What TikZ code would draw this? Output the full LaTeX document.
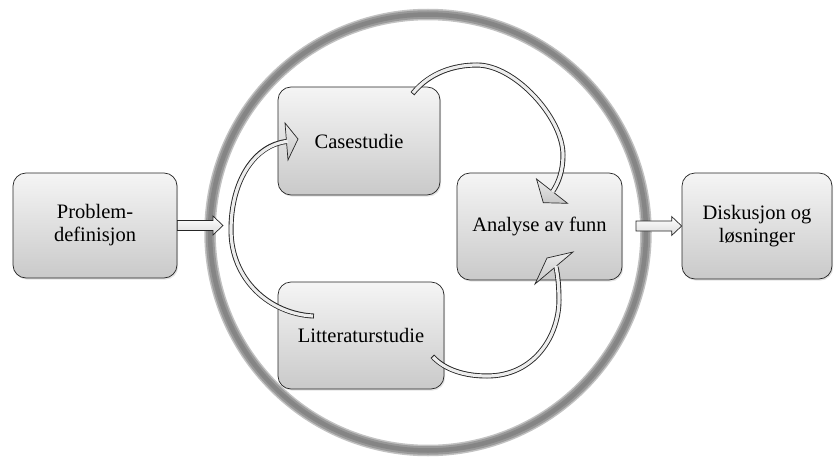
\documentclass[tikz,border=0pt]{standalone}
\usepackage{fontspec}
\IfFontExistsTF{LiberationSerif-Regular.ttf}
  {\newfontfamily\stagefont{LiberationSerif}[Extension=.ttf, UprightFont=*-Regular]}
  {\newfontfamily\stagefont{Liberation Serif}}
\usetikzlibrary{shadows,calc}

% hollow block arrow between two points (same height as the first point)
\newcommand\blockarrow[2]{%
  \path[blockar] let \p1=(#1), \p2=(#2) in
    (\x1,\y1+5pt) -- (\x2-10pt,\y1+5pt) -- (\x2-10pt,\y1+9.5pt) --
    (\x2,\y1) -- (\x2-10pt,\y1-9.5pt) -- (\x2-10pt,\y1-5pt) --
    (\x1,\y1-5pt) -- cycle;}

% curved band arrow: #1 = path, #2 = head polygon
\newcommand\bandarrow[2]{%
  \draw[bandout, shorten <=-0.9pt] #1;
  \draw[bandhead] #2;
  \draw[bandin, shorten >=-1.2pt] #1;}

\begin{document}
\begin{tikzpicture}[x=1pt,y=-1pt,
  stage/.style={draw=black!85, line width=0.7pt, rounded corners=13pt,
    top color=black!4, bottom color=black!21, align=center, inner sep=0pt,
    font=\stagefont\fontsize{20.5}{23}\selectfont,
    drop shadow={shadow xshift=1.2pt, shadow yshift=-1.6pt, opacity=0.22}},
  blockar/.style={draw=black!85, line width=0.7pt, top color=white, bottom color=black!14},
  bandout/.style={draw=black!85, line width=5pt},
  bandin/.style={draw=black!7, line width=3.2pt},
  bandhead/.style={draw=black!85, line width=0.7pt, top color=black!8, bottom color=black!22, line join=miter},
]
\useasboundingbox (0,0) rectangle (836,460);

% outer ring
\draw[black!24, line width=11.5pt] (428,232.5) circle[radius=218];
\draw[black!40, line width=8.5pt] (428,232.5) circle[radius=218];
\draw[black!48, line width=4.5pt] (428,232.5) circle[radius=218];
\coordinate (ringW) at (210,232.5);
\coordinate (ringE) at (646,232.5);

% stages
\node[stage, minimum width=164pt, minimum height=105pt] (prob) at (95,225.5) {Problem-\\definisjon};
\node[stage, minimum width=162pt, minimum height=108pt] (case) at (359,141) {Casestudie};
\node[stage, minimum width=165pt, minimum height=107pt] (anal) at (539.5,226.5) {Analyse av funn};
\node[stage, minimum width=166pt, minimum height=107pt] (lit) at (361,335.5) {Litteraturstudie};
\node[stage, minimum width=150pt, minimum height=106pt] (disk) at (757,226) {Diskusjon og\\løsninger};

% straight block arrows
\coordinate (inTip) at ($(ringW)+(13,-7.5)$);
\coordinate (outStart) at ($(ringE)+(-10,-6.5)$);
\blockarrow{prob.east}{inTip}
\blockarrow{outStart}{disk.west}

% curved arrows inside the ring
\coordinate (lt) at (313,316);
\coordinate (lh) at (286.5,141.5);
\bandarrow{(lt) .. controls (270,314) and (231,280) .. (231,230)
  .. controls (231,180) and (255,145) .. (lh)}
  {(285,123) -- (298,139) -- (288,160) -- cycle}

\coordinate (ct) at (413,93);
\coordinate (ch) at (553,191);
\bandarrow{(ct) .. controls (430,72) and (455,65) .. (477,65)
  .. controls (515,65) and (563,118) .. (563,155)
  .. controls (563,170) and (559,182) .. (ch)}
  {(536.5,179) -- (567.5,203.3) -- (543.3,202.7) -- cycle}

\coordinate (bt) at (433,357);
\coordinate (bh) at (556,267);
\bandarrow{(bt) .. controls (445,370) and (465,376) .. (487,376)
  .. controls (535,376) and (559,335) .. (559,300)
  .. controls (559,288) and (558,276) .. (bh)}
  {(535,284) -- (547,258) -- (573,252) -- cycle}
\end{tikzpicture}
\end{document}
